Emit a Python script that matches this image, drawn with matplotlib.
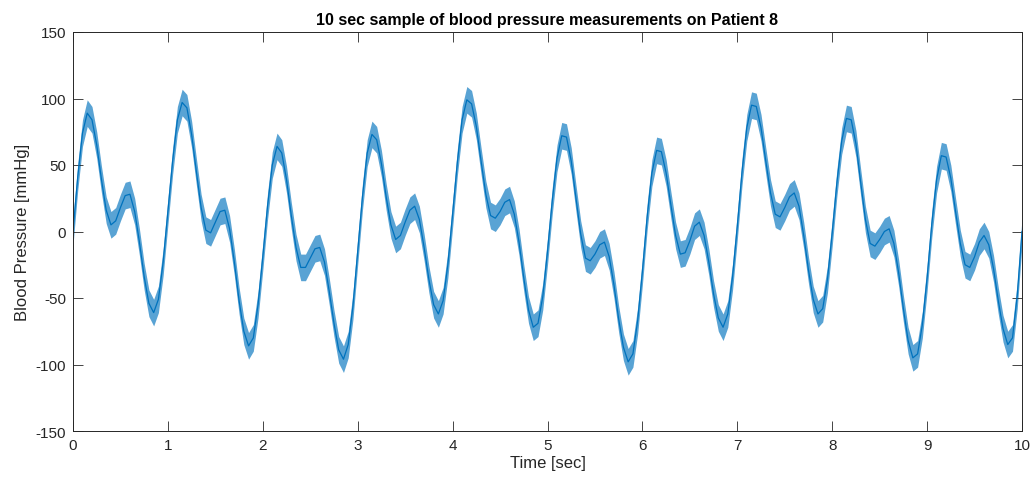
import matplotlib
matplotlib.use("Agg")
import matplotlib.pyplot as plt
import numpy as np

# Time axis of the readings (seconds) and the slow blood-pressure wave
time_sec = [i * 0.05 for i in range(201)]
pressure_mmHg = [
    0, 41, 74, 89, 84, 65, 39, 16, 5, 8, 18, 27, 28, 15, -8, -34, -54, -61, -51, -23,
    15, 53, 84, 97, 93, 73, 45, 18, 1, -1, 7, 15, 16, 2, -23, -52, -75, -86, -80, -55,
    -19, 19, 50, 64, 59, 39, 12, -12, -27, -27, -20, -13, -12, -23, -45, -69, -89, -96, -85, -56,
    -15, 26, 59, 73, 69, 51, 26, 5, -6, -3, 7, 16, 19, 9, -12, -36, -55, -62, -52, -25,
    13, 52, 84, 99, 96, 79, 53, 28, 12, 10, 15, 22, 24, 13, -8, -35, -59, -72, -69, -49,
    -15, 23, 55, 72, 71, 53, 25, -2, -20, -22, -17, -10, -8, -19, -40, -66, -87, -98, -92, -67,
    -30, 11, 44, 61, 60, 44, 20, -3, -17, -16, -7, 4, 7, -3, -23, -47, -65, -72, -62, -34,
    4, 45, 78, 95, 94, 78, 53, 29, 13, 11, 18, 26, 29, 19, -3, -29, -51, -62, -58, -36,
    -1, 37, 68, 85, 84, 66, 37, 9, -9, -11, -6, 0, 2, -9, -31, -58, -82, -95, -92, -70,
    -35, 6, 39, 57, 56, 40, 15, -9, -25, -27, -19, -8, -3, -10, -28, -52, -73, -85, -80, -48,
    0,
]
# half-height of the fast ripple riding on the wave (mmHg)
ripple_halfwidth = [10] * len(time_sec)

x_ticks = [0, 1, 2, 3, 4, 5, 6, 7, 8, 9, 10]
y_ticks = [-150, -100, -50, 0, 50, 100, 150]

title_text = "10 sec sample of blood pressure measurements on Patient 8"
xlabel_text = "Time [sec]"
ylabel_text = "Blood Pressure [mmHg]"

plt.rcParams['font.family'] = ['Liberation Sans', 'DejaVu Sans']
plt.rcParams['axes.unicode_minus'] = False

fig = plt.figure(figsize=(10.35, 4.81), dpi=100)
ax = fig.add_axes([73 / 1035, 1 - 432 / 481, (1022 - 73) / 1035, (432 - 33) / 481])

t = np.array(time_sec)
p = np.array(pressure_mmHg, dtype=float)
hw = np.array(ripple_halfwidth, dtype=float)
line_color = '#0072BD'
ax.fill_between(t, p - hw, p + hw, color=line_color, alpha=0.65, linewidth=0)
ax.plot(t, p, color=line_color, linewidth=0.9)

ax.set_xlim(0, 10)
ax.set_ylim(-150, 150)
ax.set_xticks(x_ticks)
ax.set_yticks(y_ticks)
ax.tick_params(direction='in', length=7, width=0.6, colors='#262626', labelsize=11,
               top=True, right=True, labeltop=False, labelright=False, pad=5)
for s in ax.spines.values():
    s.set_color('#262626')
    s.set_linewidth(0.7)

ax.set_title(title_text, fontsize=11.5, fontweight='bold', color='black', pad=6)
ax.set_xlabel(xlabel_text, fontsize=12, color='#262626', labelpad=2)
ax.set_ylabel(ylabel_text, fontsize=12, color='#262626', labelpad=4)

fig.savefig('out.png', dpi=100)
